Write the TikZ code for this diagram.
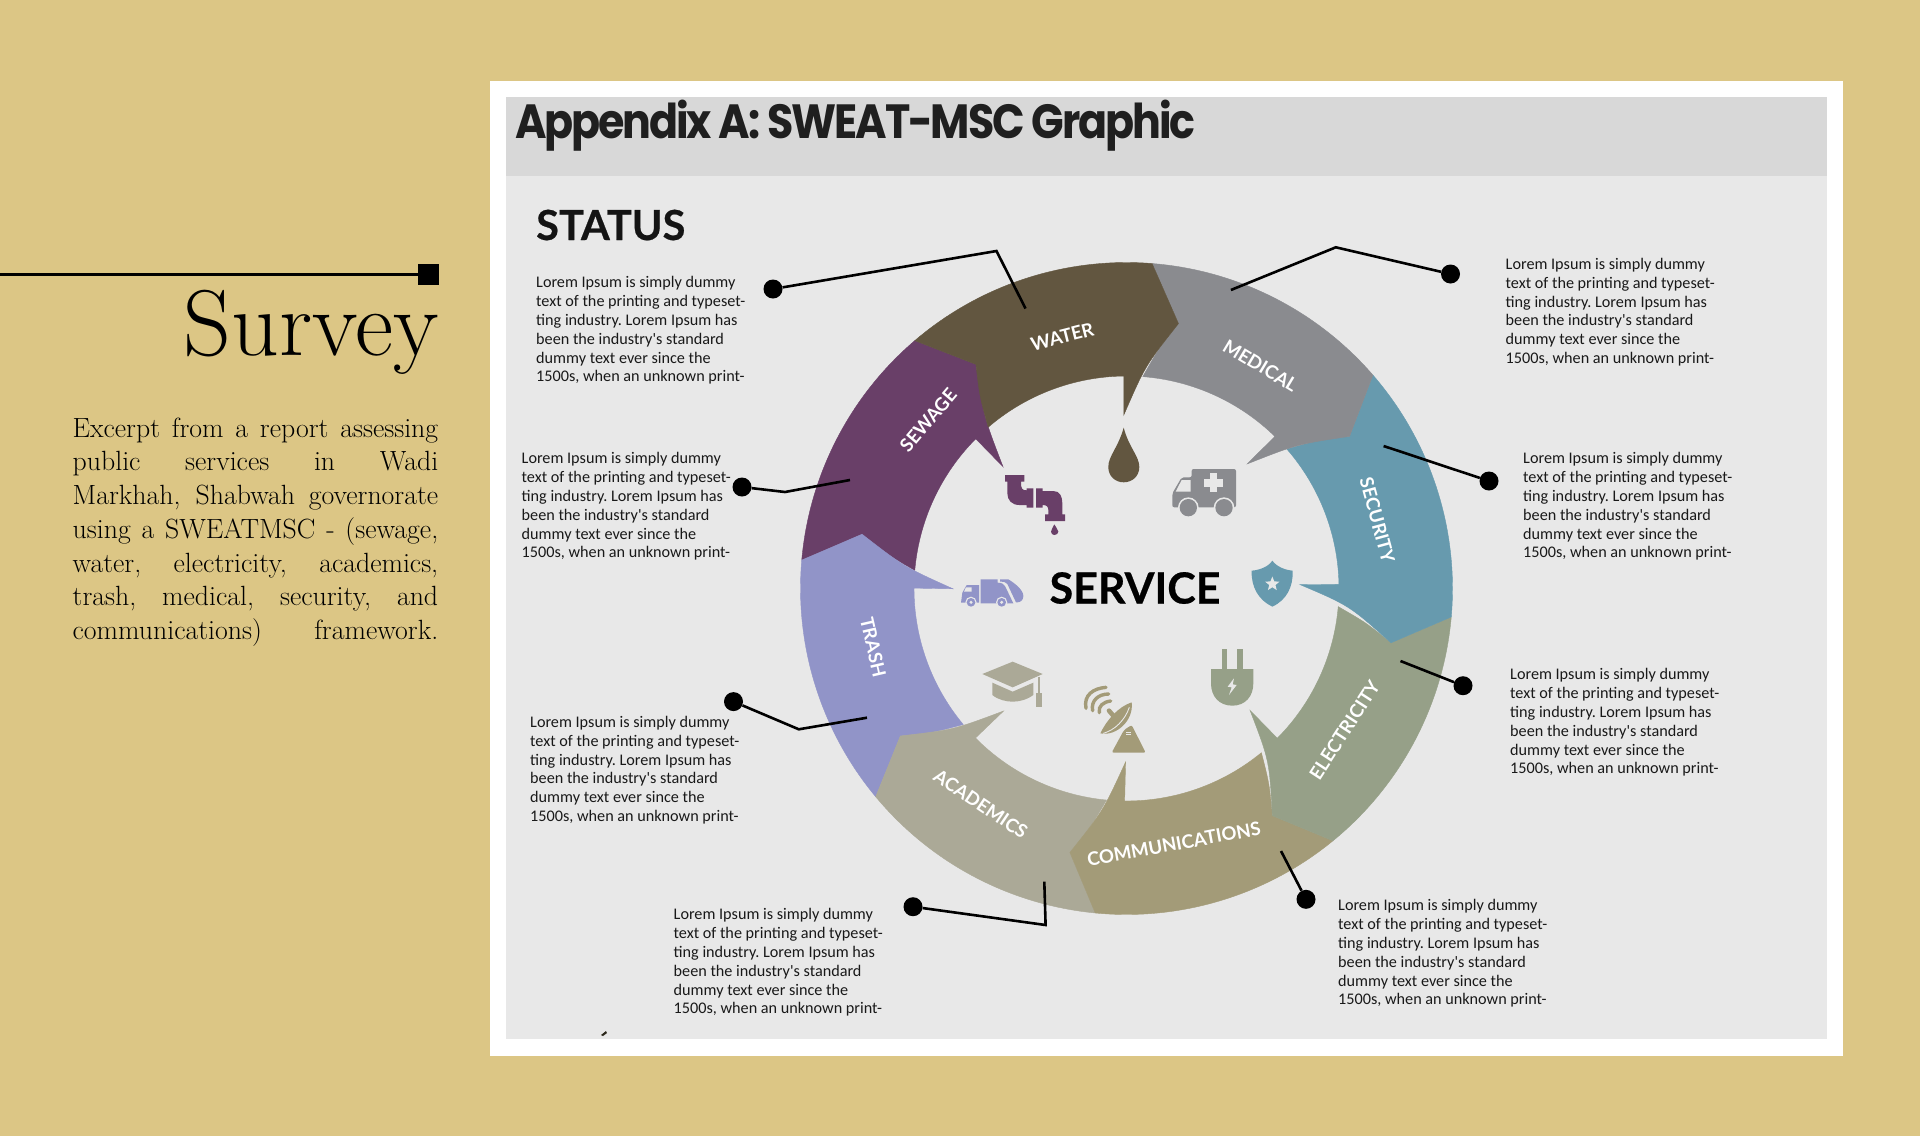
\documentclass[tikz,border=0pt]{standalone}
\usepackage{fontspec}
\usepackage{graphicx}
\usetikzlibrary{shapes.geometric}
\newfontfamily\poppinsfont[LetterSpace=-5]{Poppins}
\newfontfamily\latofont{Lato}
\newfontfamily\heavyfont[BoldFeatures={FakeBold=0.5}]{Lato}
\newfontfamily\bodyfont{Carlito}
\definecolor{gold}{HTML}{DCC685}
\definecolor{panel}{HTML}{E8E8E8}
\definecolor{band}{HTML}{D8D8D8}
\definecolor{segwater}{HTML}{625640}
\definecolor{segmedical}{HTML}{8A8B8F}
\definecolor{segsecurity}{HTML}{679AAE}
\definecolor{segelectricity}{HTML}{96A088}
\definecolor{segcomms}{HTML}{A39B78}
\definecolor{segacademics}{HTML}{ABA997}
\definecolor{segtrash}{HTML}{9194C8}
\definecolor{segsewage}{HTML}{693F68}
\newcommand{\loremtxt}{Lorem Ipsum is simply dummy\\text of the printing and typeset-\\ting industry. Lorem Ipsum has\\been the industry's standard\\dummy text ever since the\\1500s, when an unknown print-}
\begin{document}
\begin{tikzpicture}[
        x=1pt, y=-1pt,
        lorem/.style={font=\bodyfont\frenchspacing\fontsize{16.2}{18.8}\selectfont, align=left, inner sep=0pt, anchor=north west, text=black!90},
        leader/.style={line width=2.6pt, black, line join=miter},
        dot/.style={circle, fill=black, minimum size=19pt, inner sep=0pt},
        seglabel/.style={font=\latofont\bfseries\fontsize{18.6}{19}\selectfont, text=white, inner sep=0pt}
    ]
        % Page and panels
        \useasboundingbox (0,0) rectangle (1920,1136);
        \fill[gold] (0,0) rectangle (1920,1136);
        \fill[white] (489.5,81) rectangle (1843,1055.5);
        \fill[panel] (506,97) rectangle (1827,1038.5);
        \fill[band] (506,97) rectangle (1827,176);
        \fill[black!80!gold] (601,1035) -- (606,1031) -- (607,1033) -- (603,1036) -- cycle;

        % Left column
        \node[minimum size=21pt, fill=black, inner sep=0pt] (cap) at (428.5,274.5) {};
        \coordinate (rulestart) at (0,274.5);
        \draw[line width=3pt] (rulestart) -- (cap);
        \node[anchor=base east, inner sep=0pt, font=\fontsize{93.5}{94}\selectfont] (survey) at (439,355) {Survey};
        \node[anchor=north west, inner sep=0pt, text width=365.5pt, align=justify, font=\fontsize{27.8}{33.7}\selectfont] (excerpt) at (72.5,417.5) {\tolerance=9999 Excerpt from a report assessing\linebreak public services in Wadi\linebreak Markhah, Shabwah governorate\linebreak using a SWEATMSC - (sewage,\linebreak water, electricity, academics,\linebreak trash, medical, security, and\linebreak communications)\hfill framework.};

        % Headings
        \node[anchor=base west, inner sep=0pt, font=\poppinsfont\bfseries\fontsize{48}{48}\selectfont, text=black!88] (title) at (515,138) {\scalebox{.892}[1]{Appendix A: SWEAT-MSC Graphic}};
        \node[anchor=base west, inner sep=0pt, font=\heavyfont\bfseries\fontsize{41.5}{42}\selectfont, text=black!92] (status) at (536,240) {STATUS};
        \node[inner sep=0pt, font=\heavyfont\bfseries\fontsize{43}{43}\selectfont, text=black] (service) at (1135,588) {SERVICE};

        % Ring
        \begin{scope}[shift={(1126.5,588.5)}, y=1pt]
            \foreach \nm/\rot/\nxt in {sewage/-315.5/-360, trash/-270.8/-315.5, academics/-226/-270.8, comms/-181.2/-226, electricity/-135.5/-181.2, security/-89.6/-135.5, medical/-45/-89.6, water/0/-45} {
                \fill[seg\nm, draw=seg\nm, line width=.4pt]
                    (130.5+\rot:326pt) arc[start angle=130.5+\rot, end angle=130.5+\nxt, radius=326pt]
                    -- (123.9+\nxt:270pt)
                    .. controls (85.2+\rot:223.6pt) .. (90.9+\rot:173.5pt)
                    -- (90.7+\rot:212.5pt)
                    arc[start angle=90.7+\rot, end angle=130.6+\rot, radius=212.5pt]
                    .. controls (127.4+\rot:241.8pt) .. (123.9+\rot:270pt)
                    -- cycle;
            }
            \foreach \nm/\ang/\txt/\tilt in {water/104.3/WATER/14.3, medical/59/MEDICAL/-31, security/15.2/SECURITY/-74.8, electricity/-33/ELECTRICITY/57, comms/-79.5/COMMUNICATIONS/10.5, academics/235.9/ACADEMICS/-34, trash/193/TRASH/-77, sewage/139.7/SEWAGE/49.7} {
                \node[seglabel, rotate=\tilt] (lbl\nm) at (\ang:260pt) {\txt};
            }
        \end{scope}

        % Icon: drop
        \fill[segwater] (1123.7,427.7) .. controls (1118,448) and (1108.3,456) .. (1108.3,467) .. controls (1108.3,476) and (1115,482.3) .. (1123.7,482.3) .. controls (1132.5,482.3) and (1139.3,476) .. (1139.3,467) .. controls (1139.3,456) and (1129,448) .. (1123.7,427.7) -- cycle;

        % Icon: faucet
        \begin{scope}[shift={(990,465)}, scale=1/3]
            \fill[segsewage] (45,30) -- (103,30) -- (103,50) -- (93,50) -- (93,62) .. controls (93,70) and (98,76) .. (110,76) -- (110,70) -- (130,70) -- (130,128) -- (110,128) -- (110,120) -- (88,120) .. controls (65,120) and (52,105) .. (52,85) -- (52,50) -- (45,50) -- cycle;
            \fill[segsewage] (138,70) -- (158,70) -- (158,78) -- (190,78) .. controls (210,78) and (217,95) .. (217,115) -- (217,148) -- (225,148) -- (225,168) -- (165,168) -- (165,148) -- (175,148) -- (175,135) .. controls (175,125) and (170,120) .. (158,120) -- (158,128) -- (138,128) -- cycle;
            \fill[segsewage] (193,178) .. controls (190,188) and (183,192) .. (183,200) .. controls (183,206) and (188,210) .. (193,210) .. controls (199,210) and (205,206) .. (205,200) .. controls (205,192) and (196,188) .. (193,178) -- cycle;
        \end{scope}

        % Icon: truck
        \begin{scope}[shift={(955,570)}, scale=1/3]
            \fill[segtrash] (18,98) -- (22,68) -- (35,45) -- (72,45) -- (72,98) -- cycle;
            \fill[panel] (33,52) -- (50,52) -- (50,65) -- (27,65) -- cycle;
            \fill[segtrash] (77,28) -- (128,28) -- (128,38) .. controls (140,38) and (147,42) .. (150,48) -- (175,100) -- (77,100) -- cycle;
            \fill[segtrash] (135,28) -- (160,28) .. controls (180,40) and (205,60) .. (205,78) .. controls (205,90) and (197,97) .. (187,97) -- (183,97) -- (157,42) .. controls (154,36) and (146,35) .. (135,35) -- cycle;
            \foreach \px in {48,140} {
                \fill[panel] (\px,97) circle[radius=17];
                \fill[segtrash] (\px,97) circle[radius=13];
                \fill[panel] (\px,97) circle[radius=5];
            }
        \end{scope}

        % Icons: ambulance, shield, plug, cap
        \begin{scope}[shift={(930,400)}, scale=1/3]
            \fill[segmedical, rounded corners=2pt] (785,207) -- (918,207) -- (918,322) -- (727,322) -- (727,280) -- (755,232) -- (785,232) -- cycle;
            \fill[panel] (755,240) -- (782,240) -- (782,275) -- (737,275) -- cycle;
            \fill[panel] (840,220) rectangle (862,275);
            \fill[panel] (822,238) rectangle (878,260);
            \foreach \px in {775,882} {
                \fill[panel] (\px,323) circle[radius=31];
                \fill[segmedical] (\px,323) circle[radius=26];
            }
            \fill[segsecurity] (1027,482) .. controls (1040,500) and (1065,510) .. (1088,512) .. controls (1090,560) and (1070,600) .. (1027,620) .. controls (985,600) and (963,560) .. (965,512) .. controls (990,510) and (1015,500) .. (1027,482) -- cycle;
            \node[star, star points=5, star point ratio=2.3, fill=panel, minimum size=15pt, inner sep=0pt] (badge) at (1027,552) {};
            \fill[segelectricity] (875,748) rectangle (892,810);
            \fill[segelectricity] (922,748) rectangle (940,810);
            \fill[segelectricity] (843,807) -- (970,807) -- (970,850) .. controls (970,890) and (945,917) .. (907,917) .. controls (868,917) and (843,890) .. (843,850) -- cycle;
            \fill[panel] (912,835) -- (893,860) -- (905,862) -- (897,885) -- (920,855) -- (908,853) -- cycle;
            \fill[segacademics] (157,822) -- (248,785) -- (338,822) -- (248,862) -- cycle;
            \fill[segacademics] (187,848) -- (248,875) -- (310,848) -- (310,885) .. controls (290,900) and (265,905) .. (248,905) .. controls (230,905) and (205,900) .. (187,885) -- cycle;
            \fill[segacademics] (323,832) rectangle (329,880);
            \fill[segacademics] (318,878) rectangle (335,922);
        \end{scope}

        % Icon: dish
        \begin{scope}[shift={(1060,670)}, scale=1/3]
            \foreach \pa/\pb/\pc/\pd in {{78,115}/{70,75}/{100,55}/{138,52}, {98,122}/{92,92}/{115,72}/{146,72}, {118,128}/{114,108}/{130,96}/{152,93}} {
                \draw[segcomms, line width=3.4pt, line cap=round] (\pa) .. controls (\pb) and (\pc) .. (\pd);
            }
            \draw[segcomms, line width=4.6pt, line cap=round] (147,122) -- (165,143);
            \fill[segcomms] (215,97) .. controls (175,110) and (140,150) .. (121,190) .. controls (170,200) and (222,150) .. (215,97) -- cycle;
            \draw[panel, line width=.9pt] (208,112) .. controls (195,150) and (165,180) .. (130,190);
            \fill[segcomms, rounded corners=2pt] (192,180) -- (155,248) -- (257,248) -- (215,165) -- cycle;
            \draw[panel, line width=.9pt] (198,186) -- (212,186) (198,193) -- (212,193);
        \end{scope}

        % Leaders
        \node[dot] (dotwater) at (773,289) {};
        \coordinate (elbwater) at (996.5,251);
        \coordinate (endwater) at (1025.5,308.5);
        \draw[leader] (dotwater) -- (elbwater) -- (endwater);
        \node[dot] (dotmedical) at (1450.5,274) {};
        \coordinate (elbmedical) at (1335.8,247.3);
        \coordinate (endmedical) at (1230.9,290);
        \draw[leader] (dotmedical) -- (elbmedical) -- (endmedical);
        \node[dot] (dotsecurity) at (1489,481) {};
        \coordinate (endsecurity) at (1383.6,446);
        \draw[leader] (dotsecurity) -- (endsecurity);
        \node[dot] (dotsewage) at (742,487) {};
        \coordinate (elbsewage) at (785,492);
        \coordinate (endsewage) at (850,480);
        \draw[leader] (dotsewage) -- (elbsewage) -- (endsewage);
        \node[dot] (dotelectricity) at (1463,685.7) {};
        \coordinate (endelectricity) at (1400.5,661);
        \draw[leader] (dotelectricity) -- (endelectricity);
        \node[dot] (dotcomms) at (1306,899.3) {};
        \coordinate (endcomms) at (1281,851);
        \draw[leader] (dotcomms) -- (endcomms);
        \node[dot] (dotacademics) at (913,906.7) {};
        \coordinate (elbacademics) at (1045.6,925);
        \coordinate (endacademics) at (1044.3,881.7);
        \draw[leader] (dotacademics) -- (elbacademics) -- (endacademics);
        \node[dot] (dottrash) at (733.5,701.6) {};
        \coordinate (elbtrash) at (798.8,729.3);
        \coordinate (endtrash) at (867,717.7);
        \draw[leader] (dottrash) -- (elbtrash) -- (endtrash);

        % Body copy
        \foreach \nm/\px/\py in {water/536/276.5, sewage/521.5/452.5, trash/530/716, academics/673.5/908.5, comms/1338/899.5, electricity/1510/668.5, security/1523/452.5, medical/1505.5/258} {
            \node[lorem] (copy\nm) at (\px,\py) {\loremtxt};
        }
    \end{tikzpicture}
\end{document}
